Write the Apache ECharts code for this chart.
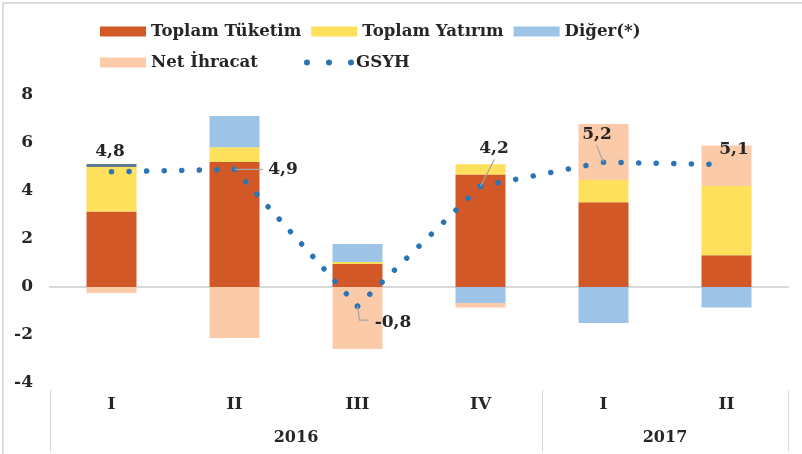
<!DOCTYPE html>
<html>
<head>
<meta charset="utf-8">
<script src="https://cdn.jsdelivr.net/npm/echarts@6/dist/echarts.min.js"></script>
<style>
  html, body { margin: 0; padding: 0; background: #fff; }
  #frame { position: absolute; left: 2px; top: 2px; width: 900px; height: 500px;
           border-left: 2px solid #dcdcdc; border-top: 2px solid #dcdcdc; }
  #main { position: absolute; left: 0; top: 0; width: 802px; height: 454px; }
</style>
</head>
<body>
<div id="frame"></div>
<div id="main"></div>
<script>
// kategoriler (çeyrekler) ve yıllar
const quarters = ['I', 'II', 'III', 'IV', 'I', 'II'];
const years = ['2016', '2017'];
const quartersPerYear = [4, 2];

// büyümeye katkılar (yüzde puan)
const toplamTuketim = [3.15, 5.21, 0.96, 4.69, 3.53, 1.32];
const toplamYatirim = [1.85, 0.61, 0.08, 0.42, 0.93, 2.89];
const diger = [0.12, 1.31, 0.75, -0.67, -1.50, -0.85];
const netIhracat = [-0.25, -2.13, -2.58, -0.18, 2.33, 1.69];
// GSYH büyümesi
const gsyh = [4.8, 4.9, -0.8, 4.2, 5.2, 5.1];

// y ekseni
const yMin = -4;
const yMax = 8;
const yStep = 2;

const FONT = 'DejaVu Serif';
const TXT = '#262626';
const DOT = '#2a74b8';

// yıl sınırları ve ortaları (çeyrek sayılarından)
const yearBounds = [0];
quartersPerYear.forEach((n) => yearBounds.push(yearBounds[yearBounds.length - 1] + n));
const yearCenters = years.map((y, i) => (yearBounds[i] + yearBounds[i + 1]) / 2);

// GSYH etiketleri: noktaya göre yazı merkezi ve kılavuz çizgisi (piksel)
const labelOffset = [[-1.5, -20], [48.5, 0.5], [35.5, 16], [13.5, -38], [-6.5, -28], [7.5, -15]];
const leaderPath = [
  null,
  [[0, 0], [28.5, 0]],
  [[0, 0], [2, 14], [11, 14]],
  [[0, 0], [14, -27]],
  [[0, 0], [-7, -17]],
  null,
];
const dotStep = 17; // nokta aralığı (px)

const chart = echarts.init(document.getElementById('main'));

const barSeries = (name, data, color) => ({
  name,
  type: 'bar',
  stack: 'katki',
  barWidth: 50,
  xAxisIndex: 0,
  data,
  itemStyle: { color },
  emphasis: { disabled: true },
});

const legendText = { fontFamily: FONT, fontWeight: 'bold', fontSize: 16.6, color: TXT };

const option = {
  animation: false,
  textStyle: { fontFamily: FONT },
  grid: { left: 50, right: 14, top: 95, bottom: 71 },
  legend: [
    {
      left: 100, top: 23, padding: 0,
      itemWidth: 46, itemHeight: 10, itemGap: 10,
      icon: 'rect',
      textStyle: legendText,
      data: ['Toplam Tüketim', 'Toplam Yatırım', 'Diğer(*)'],
    },
    {
      left: 100, top: 54, padding: 0,
      itemWidth: 46, itemHeight: 10,
      icon: 'rect',
      textStyle: legendText,
      data: ['Net İhracat'],
    },
    {
      left: 304, top: 54, padding: 0,
      itemWidth: 50, itemHeight: 6,
      textStyle: Object.assign({ padding: [0, 0, 0, -3] }, legendText),
      data: [{ name: 'GSYH', icon: 'path://M0,3a3,3 0 1,0 6,0a3,3 0 1,0 -6,0Z M22,3a3,3 0 1,0 6,0a3,3 0 1,0 -6,0Z M44,3a3,3 0 1,0 6,0a3,3 0 1,0 -6,0Z' }],
    },
  ],
  xAxis: [
    {
      // sıfır çizgisi
      type: 'category',
      data: quarters,
      axisLine: { onZero: true, lineStyle: { color: '#d9d9d9', width: 2 } },
      axisTick: { show: false },
      axisLabel: { show: false },
    },
    {
      // çeyrek etiketleri
      type: 'category',
      data: quarters,
      position: 'bottom',
      axisLine: { show: false, onZero: false },
      axisTick: { show: false },
      axisLabel: { margin: 13, fontFamily: FONT, fontWeight: 'bold', fontSize: 17, color: TXT },
    },
    {
      // yıl etiketleri ve ayraçlar
      type: 'value',
      min: 0,
      max: yearBounds[yearBounds.length - 1],
      position: 'bottom',
      offset: 7,
      axisLine: { show: false, onZero: false },
      splitLine: { show: false },
      axisTick: { show: true, customValues: yearBounds, length: 62, lineStyle: { color: '#d9d9d9', width: 1 } },
      axisLabel: {
        customValues: yearCenters,
        margin: 40,
        fontFamily: FONT, fontWeight: 'bold', fontSize: 16, color: TXT,
        formatter: (v) => years[yearCenters.indexOf(v)] || '',
      },
    },
  ],
  yAxis: {
    type: 'value',
    min: yMin,
    max: yMax,
    interval: yStep,
    axisLine: { show: false },
    axisTick: { show: false },
    splitLine: { show: false },
    axisLabel: { margin: 17, fontFamily: FONT, fontWeight: 'bold', fontSize: 17, color: TXT },
  },
  series: [
    barSeries('Toplam Tüketim', toplamTuketim, '#d35827'),
    barSeries('Toplam Yatırım', toplamYatirim, '#fde05c'),
    // ilk çeyrekteki ince şerit referansta koyu renkte
    barSeries('Diğer(*)', diger.map((v, i) => (i === 0 ? { value: v, itemStyle: { color: '#5f7b93' } } : v)), '#9dc3e6'),
    barSeries('Net İhracat', netIhracat, '#fbcaa8'),
    {
      // GSYH noktalı çizgi (her parçada noktalar köşelere oturur) + etiketler
      name: 'GSYH',
      type: 'custom',
      xAxisIndex: 0,
      z: 6,
      silent: true,
      itemStyle: { color: DOT },
      data: gsyh.map((v, i) => [i, v]),
      renderItem: (params, api) => {
        const i = params.dataIndex;
        const p = api.coord([api.value(0), api.value(1)]);
        const children = [];
        if (i < gsyh.length - 1) {
          const q = api.coord([i + 1, gsyh[i + 1]]);
          const len = Math.hypot(q[0] - p[0], q[1] - p[1]);
          const step = len / Math.max(1, Math.round(len / dotStep));
          children.push({
            type: 'line',
            shape: { x1: p[0], y1: p[1], x2: q[0], y2: q[1] },
            style: { stroke: DOT, lineWidth: 5.5, lineCap: 'round', lineDash: [0.01, step - 0.01] },
          });
        }
        if (leaderPath[i]) {
          children.push({
            type: 'polyline',
            shape: { points: leaderPath[i].map(([dx, dy]) => [p[0] + dx, p[1] + dy]) },
            style: { stroke: '#a6a6a6', lineWidth: 1.2, fill: null },
            z2: 5,
          });
        }
        children.push({
          type: 'text',
          x: p[0] + labelOffset[i][0],
          y: p[1] + labelOffset[i][1],
          z2: 10,
          style: {
            text: String(api.value(1)).replace('.', ','),
            fill: TXT,
            font: 'bold 17px "' + FONT + '"',
            align: 'center',
            verticalAlign: 'middle',
          },
        });
        return { type: 'group', children };
      },
    },
  ],
};

chart.setOption(option);
</script>
</body>
</html>
